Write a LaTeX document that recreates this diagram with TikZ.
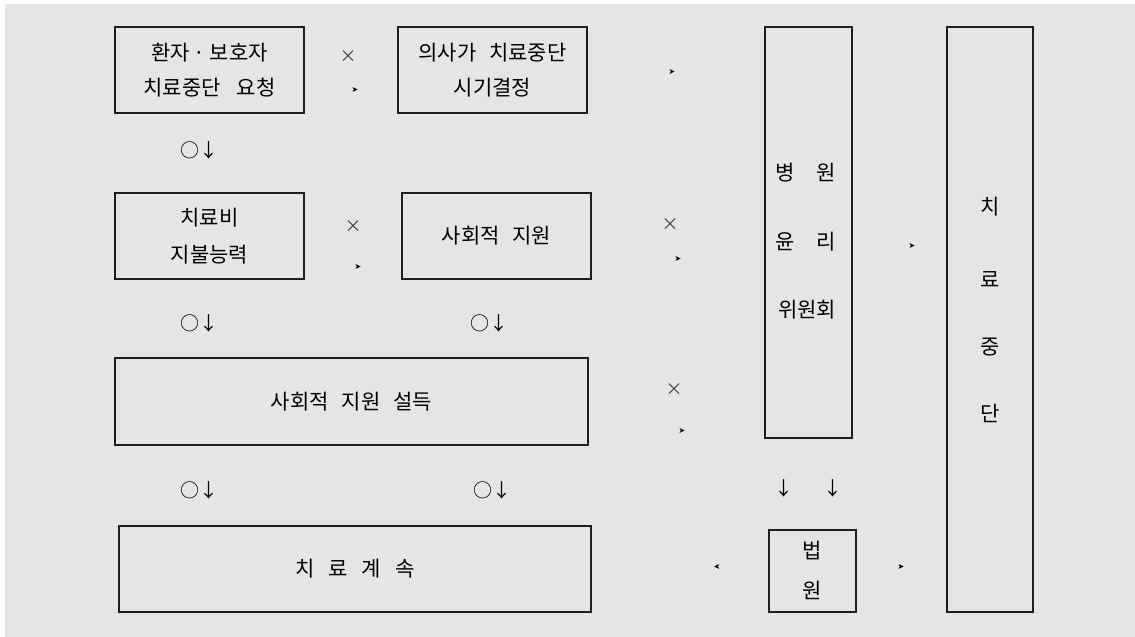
\documentclass[tikz,border=0pt]{standalone}
\usepackage{fontspec}
\setmainfont{Noto Sans CJK KR}
\newfontfamily\kr{Noto Sans CJK KR}
\newfontfamily\djsans{DejaVu Sans}
\definecolor{bggray}{HTML}{E5E5E5}
\definecolor{boxline}{HTML}{1E1E1E}
\newcommand{\ws}{\hspace{13pt}}
\tikzset{
  box/.style={draw=boxline, line width=1.1pt, inner sep=0pt, align=center,
    font=\kr\fontsize{21}{36}\selectfont},
  lbl/.style={inner sep=0pt, font=\kr\fontsize{21}{33}\selectfont},
  okdown/.style={inner sep=0pt, font=\kr\fontsize{19}{20}\selectfont},
  xmark/.style={inner sep=0pt, text=black!75, font=\kr\fontsize{17}{17}\selectfont},
  pmark/.style={inner sep=0pt, font=\djsans\fontsize{8}{8}\selectfont},
}
\begin{document}
\begin{tikzpicture}[x=1pt,y=-1pt]
\useasboundingbox[fill=white] (0,0) rectangle (1135,637);
\fill[bggray] (5,4) rectangle (1135,637);

% boxes
\node[box, minimum width=189pt, minimum height=86pt] (b1) at (209.5,70) {환자\hspace{4pt}·\hspace{4pt}보호자\\[-1pt]치료중단\hspace{16pt}요청};
\node[box, minimum width=189pt, minimum height=86pt] (b2) at (492.5,70) {의사가\ws 치료중단\\[-1pt]시기결정};
\node[box, minimum width=189pt, minimum height=86pt] (b3) at (209.5,236) {치료비\\[1pt]지불능력};
\node[box, minimum width=189pt, minimum height=86pt] (b4) at (496.5,236) {사회적\ws 지원};
\node[box, minimum width=473pt, minimum height=87pt] (b5) at (351.5,401.5) {사회적\ws 지원\ws 설득};
\node[box, minimum width=472pt, minimum height=86pt] (b6) at (355,569) {치\hspace{14pt}료\hspace{14pt}계\hspace{14pt}속};
\node[box, minimum width=87pt, minimum height=411pt] (b7) at (808.5,232.5) {};
\node[box, minimum width=87pt, minimum height=82pt] (b8) at (812.5,571) {};
\node[box, minimum width=86pt, minimum height=585pt] (b9) at (990,319.5) {};

% vertical texts
\node[lbl] (t7a) at (806,173) {병\hspace{22pt}원};
\node[lbl] (t7b) at (806,242) {윤\hspace{22pt}리};
\node[lbl] (t7c) at (807,310) {위원회};
\node[lbl] (t8a) at (812,550) {법};
\node[lbl] (t8b) at (812,590) {원};
\node[lbl] (t9a) at (990,207) {치};
\node[lbl] (t9b) at (990,280) {료};
\node[lbl] (t9c) at (990,347) {중};
\node[lbl] (t9d) at (990,413) {단};

% circle-down marks
\node[okdown] (o1) at (199,150) {○↓};
\node[okdown] (o2) at (199,323) {○↓};
\node[okdown] (o3) at (489,323) {○↓};
\node[okdown] (o4) at (199,490) {○↓};
\node[okdown] (o5) at (492,490) {○↓};
\node[okdown] (d1) at (784,488) {↓};
\node[okdown] (d2) at (833,488) {↓};

% cross marks
\node[xmark] (x1) at (348,57) {×};
\node[xmark] (x2) at (353,227) {×};
\node[xmark] (x3) at (670,225) {×};
\node[xmark] (x4) at (674,390) {×};

% small arrowheads
\node[pmark] (p1) at (355,90) {➤};
\node[pmark] (p2) at (672,72) {➤};
\node[pmark] (p3) at (358,267) {➤};
\node[pmark] (p4) at (678,259) {➤};
\node[pmark] (p5) at (682,431) {➤};
\node[pmark] (p6) at (912,246) {➤};
\node[pmark] (p7) at (717,567) {\reflectbox{➤}};
\node[pmark] (p8) at (901,567) {➤};
\end{tikzpicture}
\end{document}
